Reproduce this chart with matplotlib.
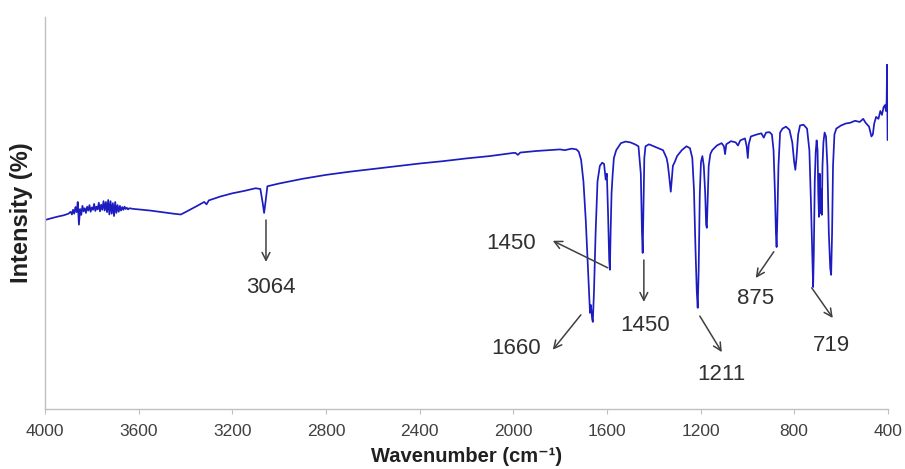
import matplotlib
matplotlib.use("Agg")
import matplotlib.pyplot as plt

plt.rcParams['font.family'] = ['Liberation Sans', 'DejaVu Sans']

wavenumber = [4000, 3950, 3920, 3900,
              3890, 3885, 3880, 3875, 3870, 3865, 3860, 3855, 3850, 3845, 3840, 3835, 3830, 3825, 3820,
              3815, 3810, 3805, 3800, 3795, 3790, 3785, 3780, 3775, 3770, 3765, 3760, 3755, 3750, 3745,
              3740, 3735, 3730, 3725, 3720, 3715, 3710, 3705, 3700, 3695, 3690, 3685, 3680, 3675, 3670,
              3665, 3660, 3655, 3650, 3645, 3640,
              3620, 3600, 3550, 3500, 3450, 3420, 3400, 3350, 3320, 3310, 3300, 3250, 3200,
              3150, 3100, 3080, 3070, 3064, 3058, 3050, 3000, 2950, 2900, 2850, 2800, 2700, 2600, 2500,
              2400, 2300, 2200, 2100, 2000, 1990, 1980, 1970, 1900, 1850, 1800, 1780, 1750, 1730, 1720,
              1710, 1700, 1690, 1680, 1672, 1668, 1663, 1660, 1655, 1648, 1640, 1630, 1620, 1612, 1605,
              1600, 1595, 1590, 1587, 1584, 1580, 1575, 1570, 1560, 1540, 1520, 1500, 1480, 1465, 1455,
              1450, 1447, 1444, 1440, 1435, 1420, 1400, 1380, 1360, 1345, 1340, 1335, 1330, 1327, 1324,
              1318, 1310, 1300, 1280, 1260, 1245, 1235, 1228, 1222, 1216, 1212, 1208, 1203, 1198, 1192,
              1186, 1180, 1176, 1173, 1170, 1165, 1158, 1150, 1130, 1110, 1100, 1095, 1090, 1070, 1050,
              1040, 1030, 1010, 1003, 998, 994, 985, 960, 940, 930, 920, 905, 895, 888, 882,
              878, 875, 872, 867, 860, 850, 835, 820, 808, 800, 795, 790, 783, 775, 760,
              745, 735, 728, 722, 719, 716, 712, 708, 704, 700, 697, 694, 691, 688, 685,
              682, 679, 675, 670, 664, 658, 652, 646, 642, 638, 634, 628, 620, 600, 580,
              560, 540, 520, 505, 495, 480, 470, 464, 458, 450, 440, 432, 425, 418, 412,
              408, 405, 403, 402, 401, 400]
intensity = [48.2, 49.0, 49.4, 49.8,
             50.3, 49.6, 50.8, 49.8, 51.5, 50.2, 52.8, 47.0, 51.0, 49.5, 51.8, 50.4, 51.2, 50.0, 51.6,
             50.6, 52.0, 50.3, 51.4, 50.8, 52.3, 50.5, 51.6, 50.9, 52.6, 50.4, 52.1, 50.8, 53.0, 50.6,
             52.8, 50.2, 53.3, 49.6, 53.0, 49.8, 52.5, 49.2, 52.8, 50.0, 52.0, 50.3, 51.8, 50.6, 51.5,
             50.8, 51.6, 51.0, 51.3, 50.9, 51.2,
             51.0, 50.9, 50.6, 50.2, 49.8, 49.6, 50.2, 51.8, 52.8, 52.2, 53.2, 54.2, 55.0,
             55.6, 56.3, 56.1, 52.5, 50.0, 52.8, 56.8, 57.5, 58.1, 58.7, 59.2, 59.7, 60.5, 61.2, 61.9,
             62.6, 63.2, 63.9, 64.5, 65.3, 65.3, 64.8, 65.4, 65.8, 66.0, 66.2, 66.0, 66.4, 66.2, 65.6,
             63.5, 58.0, 48.0, 35.0, 24.5, 26.5, 23.0, 22.2, 30.0, 45.0, 58.0, 62.0, 62.8, 62.5, 58.5,
             60.0, 50.0, 38.0, 35.5, 45.0, 55.0, 60.0, 64.0, 66.0, 67.8, 68.2, 68.0, 67.5, 67.0, 60.0,
             45.0, 39.8, 50.0, 64.0, 67.0, 67.5, 67.0, 66.5, 66.0, 64.0, 62.5, 60.0, 57.0, 55.4, 57.5,
             62.0, 63.0, 64.5, 66.0, 67.0, 66.5, 64.0, 56.0, 42.0, 30.0, 25.8, 35.0, 55.0, 63.0, 64.5,
             62.0, 55.0, 47.0, 46.2, 52.0, 62.0, 65.0, 66.0, 67.2, 67.8, 67.0, 65.0, 67.5, 68.3, 68.0,
             67.2, 68.5, 69.0, 67.0, 64.0, 67.5, 69.5, 70.0, 70.3, 69.2, 70.5, 70.6, 70.0, 66.0, 55.0,
             45.0, 41.3, 48.0, 62.0, 70.5, 71.5, 72.0, 71.2, 68.0, 63.0, 61.0, 64.0, 70.0, 72.3, 72.5,
             71.5, 66.0, 52.0, 38.0, 31.1, 40.0, 58.0, 65.5, 68.5, 66.0, 55.0, 49.0, 60.0, 50.0, 56.0,
             49.5, 62.0, 68.0, 70.5, 69.5, 62.0, 45.0, 36.0, 34.2, 45.0, 62.0, 70.0, 71.5, 72.3, 72.8,
             73.0, 73.5, 73.2, 74.0, 73.0, 72.0, 69.5, 70.0, 72.8, 74.5, 74.0, 76.0, 75.0, 77.0, 77.5,
             76.0, 78.5, 87.8, 80.0, 68.6, 68.6]

x_ticks = [4000, 3600, 3200, 2800, 2400, 2000, 1600, 1200, 800, 400]

# annotations: label, arrow start (wn, y), arrow end (wn, y), text position (wn, y)
ann_labels = ['3064', '1450', '1660', '1450', '1211', '875', '719']
ann_start = [(3056, 48.2), (1596, 36.0), (1711, 24.0), (1442, 38.0), (1203, 23.7), (887, 40.1), (725, 30.9)]
ann_end = [(3056, 37.5), (1831, 42.9), (1831, 15.1), (1442, 27.3), (1109, 14.5), (964, 33.4), (635, 23.2)]
ann_text = [(3035, 31.1), (2010, 42.3), (1989, 15.3), (1438, 21.2), (1109, 8.7), (964, 28.3), (639, 16.3)]

fig = plt.figure(figsize=(9.05, 4.69), dpi=100)
ax = fig.add_axes([0.0497, 0.128, 0.9313, 0.836])

ax.plot(wavenumber, intensity, color='#1c1cc0', linewidth=1.25)

for lab, s, e, t in zip(ann_labels, ann_start, ann_end, ann_text):
    ax.annotate('', xy=e, xytext=s,
                arrowprops=dict(arrowstyle='->', color='#404040', lw=1.1,
                                shrinkA=0, shrinkB=0, mutation_scale=14))
    ax.text(t[0], t[1], lab, fontsize=16, color='#303030', ha='center', va='center')

ax.set_xlim(4000, 400)
ax.set_ylim(0, 100)
ax.set_xticks(x_ticks)
ax.set_xticklabels([str(v) for v in x_ticks], fontsize=12.5, color='#404040')
ax.set_yticks([])
for side in ['top', 'right']:
    ax.spines[side].set_visible(False)
for side in ['left', 'bottom']:
    ax.spines[side].set_color('#c0c0c0')
    ax.spines[side].set_linewidth(1.0)
ax.tick_params(axis='x', direction='out', length=3.5, color='#c0c0c0', pad=7)

ax.set_xlabel('Wavenumber (cm\u207b\u00b9)', fontsize=14.5, fontweight='bold', color='#202020',
              va='top')
ax.xaxis.set_label_coords(0.5, -0.098)
ax.set_ylabel('Intensity (%)', fontsize=17, fontweight='bold', color='#202020')
ax.yaxis.set_label_coords(-0.0142, 0.5)

fig.savefig('out.png', dpi=100, facecolor='white')
